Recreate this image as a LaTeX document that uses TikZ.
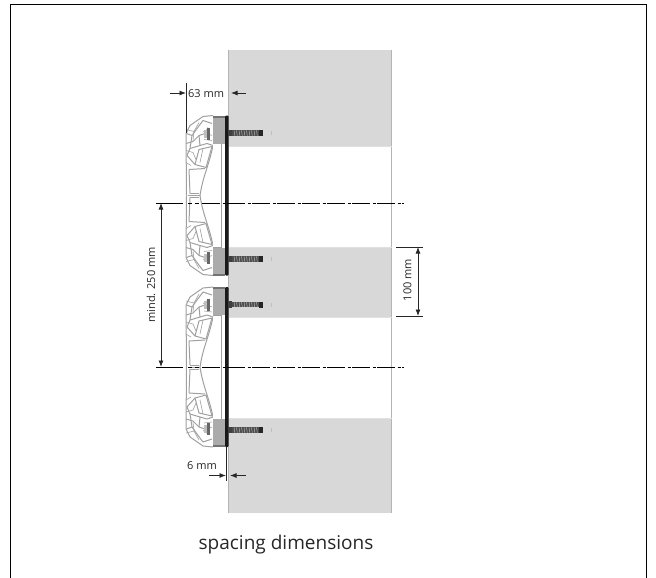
\documentclass[tikz,border=0pt]{standalone}
\usepackage{fontspec}
\setmainfont{Open Sans}
\usetikzlibrary{arrows.meta}
\definecolor{wallgray}{HTML}{D8D8D8}
\definecolor{edgegray}{HTML}{B4B4B4}
\definecolor{blockgray}{HTML}{ABABAB}
\definecolor{netgray}{HTML}{A0A0A0}
\tikzset{
  dimline/.style={line width=.8pt,black!85},
  dimarrow/.style={line width=.8pt,black!85,-{Latex[length=6.5pt,width=5pt]}},
  dimboth/.style={line width=.8pt,black!85,{Latex[length=6.5pt,width=5pt]}-{Latex[length=6.5pt,width=5pt]}},
  centreline/.style={line width=.9pt,black,dash pattern=on 18pt off 2.5pt on 3pt off 1.5pt},
  dimtext/.style={font=\fontsize{11}{13}\selectfont,inner sep=0pt,text=black!85},
  net/.style={netgray,line width=1pt,line join=round},
  netthin/.style={netgray,line width=.6pt,line join=round},
}
\newcommand{\screwdraw}[1]{%
  \begin{scope}[shift={(0,#1)}]
    \fill[black!75] (228,-3.2) rectangle (232,3.2);
    \fill[black!70] (232,-2.6) rectangle (260,2.6);
    \foreach \sx in {234,236.5,...,259}{\draw[white!70!black,line width=.5pt] (\sx,-2.6) -- (\sx+.8,2.6);}
    \fill[black!85] (259,-3) rectangle (263,3);
    \fill[black!25] (270.5,-2) rectangle (271.5,2);
  \end{scope}}
\newcommand{\halfnet}{%
  \draw[net] (186.5,0) -- (186,-62) -- (190,-70) -- (203,-79) -- (213,-80);
  \draw[net] (186.5,-62) -- (192,-60) -- (197,-67) -- (203,-75) -- (212,-72);
  \draw[net] (186,-52) -- (193,-54) -- (199,-60) -- (205,-62) -- (208,-68);
  \draw[net] (192,-60) -- (190,-47) -- (187,-40);
  \draw[net] (199,-60) -- (200,-50) -- (207,-52) -- (213,-50);
  \draw[net] (190,-47) -- (200,-50);
  \draw[net] (195,-31) -- (199,-46) -- (212,-49) -- (206,-28) -- cycle;
  \draw[net] (187,-40) -- (195,-31);
  \draw[net] (189,-26) -- (205,-27);
  \draw[net] (189,-26) -- (190,-2);
  \draw[net] (213,-50) .. controls (209,-30) and (203,-20) .. (200,0);
  \draw[net] (188,0) -- (200,0);
  \draw[net] (190,-2) -- (199,-2);
  \draw[netthin] (186,-66) -- (194,-64) -- (199,-73);
  \draw[netthin] (186,-45) -- (193,-43) -- (196,-36);
  \draw[netthin] (194,-64) -- (193,-55);
  \draw[netthin] (203,-64) -- (212,-60);
  \draw[netthin] (204,-56) -- (212,-55);
  \draw[netthin] (186,-33) -- (191,-30);
  \draw[netthin] (203,-47) -- (200,-33);
  \fill[black!60] (207,-68) rectangle (210,-56);
  \fill[black!25] (204,-66) rectangle (207,-58);
}
\newcommand{\fixture}[2]{%
  \begin{scope}[shift={(0,#1)}]
    \fill[white] (186,-62) -- (190,-70) -- (203,-79) -- (228,-80) -- (228,80) -- (203,79) -- (190,70) -- (186,62) -- cycle;
    \halfnet
    \begin{scope}[yscale=-1]\halfnet\end{scope}
    \draw[netgray,line width=.7pt,fill=white] (213,-52) -- (221,-52) -- (221,52) -- (213,52);
    \fill[blockgray] (213,-80) rectangle (225,-52);
    \fill[blockgray] (213,52) rectangle (225,80);
    \fill[black!55] (213,-80) rectangle (225,-78);
    \fill[black!55] (213,78) rectangle (225,80);
    \fill[black!90,rounded corners=1pt] (225,-80) rectangle (228.5,80);
    \screwdraw{-62.5}
    \screwdraw{#2}
  \end{scope}}
\begin{document}
\begin{tikzpicture}[x=1pt,y=-1pt]
\useasboundingbox (0,0) rectangle (656,578);
% frame
\draw[black,line width=1pt] (10.5,578) -- (10.5,4.5) -- (646,4.5) -- (646,578);
% wall
\fill[wallgray] (228.5,50) rectangle (392,146);
\fill[wallgray] (228.5,247) rectangle (392,317);
\fill[wallgray] (228.5,418) rectangle (392,513);
\draw[edgegray,line width=1.2pt] (228.8,50) -- (228.8,513);
\draw[edgegray,line width=1.2pt] (391.5,50) -- (391.5,513);
\draw[black!12,line width=.8pt] (229,146) -- (392,146) (229,247) -- (392,247) (229,317) -- (392,317) (229,418) -- (392,418);
% fixtures
\fixture{195.5}{63.5}
\fixture{367}{63}
% centre lines
\coordinate (cA1) at (156,203); \coordinate (cA2) at (183,203);
\coordinate (cA3) at (202,203); \coordinate (cA4) at (404,203);
\coordinate (cB1) at (156,367); \coordinate (cB2) at (183,367);
\coordinate (cB3) at (202,367); \coordinate (cB4) at (404,367);
\coordinate (dA1) at (188,203); \coordinate (dA2) at (192,203);
\coordinate (dA3) at (195,203); \coordinate (dA4) at (199,203);
\coordinate (dB1) at (188,367); \coordinate (dB2) at (192,367);
\coordinate (dB3) at (195,367); \coordinate (dB4) at (199,367);
\draw[black,line width=.9pt] (cA1) -- (cA2) (dA1) -- (dA2) (dA3) -- (dA4);
\draw[black,line width=.9pt] (cB1) -- (cB2) (dB1) -- (dB2) (dB3) -- (dB4);
\draw[centreline] (cA3) -- (cA4);
\draw[centreline] (cB3) -- (cB4);
% 63 mm
\coordinate (t1) at (186,83); \coordinate (t2) at (186,133);
\draw[dimline] (t1) -- (t2);
\coordinate (a1) at (170,93); \coordinate (a2) at (186,93);
\coordinate (a3) at (246,93); \coordinate (a4) at (231,93);
\draw[dimarrow] (a1) -- (a2);
\draw[dimarrow] (a3) -- (a4);
\node[dimtext,anchor=west] (lab63) at (188,93.5) {63 mm};
% 250
\coordinate (m1) at (161,203); \coordinate (m2) at (161,367);
\draw[dimboth] (m1) -- (m2);
\node[dimtext,rotate=90] (lab250) at (151,285) {mind. 250 mm};
% 100
\coordinate (h1) at (396,247); \coordinate (h2) at (423,247);
\coordinate (h3) at (396,316); \coordinate (h4) at (423,316);
\draw[dimline] (h1) -- (h2);
\draw[dimline] (h3) -- (h4);
\coordinate (h5) at (418,247); \coordinate (h6) at (418,316);
\draw[dimboth] (h5) -- (h6);
\node[dimtext,rotate=90] (lab100) at (407.5,280) {100 mm};
% 6 mm
\coordinate (s1) at (226.5,447); \coordinate (s2) at (226.5,481);
\draw[dimline] (s1) -- (s2);
\coordinate (b1) at (209,475.5); \coordinate (b2) at (226,475.5);
\coordinate (b3) at (246,475.5); \coordinate (b4) at (230,475.5);
\draw[dimarrow] (b1) -- (b2);
\draw[dimarrow] (b3) -- (b4);
\node[dimtext,anchor=east] (lab6) at (217,465.5) {6 mm};
% caption
\node[font=\fontsize{19}{22}\selectfont,inner sep=0pt,text=black!85] (cap) at (286,545) {spacing dimensions};
\end{tikzpicture}
\end{document}
